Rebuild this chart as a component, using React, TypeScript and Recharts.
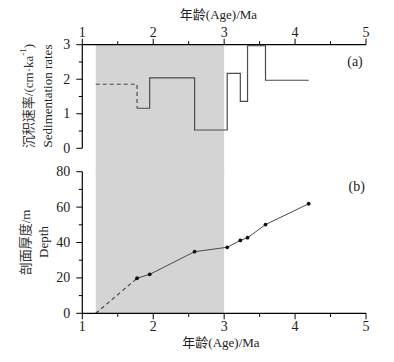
import React from 'react';
import { LineChart, Line, XAxis, YAxis, ReferenceArea } from 'recharts';

const ages = [1.19, 1.772, 1.95, 2.583, 3.043, 3.228, 3.33, 3.583, 4.192];
const rates = [1.855, 1.16, 2.04, 0.53, 2.17, 1.36, 2.97, 1.97, 1.97];
const depths = [0, 19.8, 22.0, 34.8, 37.3, 41.2, 42.7, 50.1, 61.9];
const xTicks = [1, 1.5, 2, 2.5, 3, 3.5, 4, 4.5, 5];
const rateTicks = [0, 0.5, 1, 1.5, 2, 2.5, 3];
const depthTicks = [0, 10, 20, 30, 40, 50, 60, 70, 80];
const shadeStart = 1.19;
const shadeEnd = 3;

const rateData = ages.map((a, i) => ({ age: a, rate: rates[i] }));
const rateDashed = rateData.slice(0, 2);
const rateSolid = rateData.slice(1);
const depthData = ages.map((a, i) => ({ age: a, depth: depths[i] }));
const depthDashed = depthData.slice(0, 2);
const depthSolid = depthData.slice(1);

const FONT = "'Liberation Serif', 'Noto Sans CJK SC', serif";
const LINE = '#4a4a4a';
const AX_H = 20;
const AX_W = 30;

const XTickTop = (props: any) => {
  const { x, y, payload } = props;
  const v = payload.value;
  const major = Number.isInteger(v);
  return (
    <g>
      <line x1={x} x2={x} y1={y} y2={y - (major ? 6 : 3.5)} stroke="#000" strokeWidth={1} />
      {major && (
        <text x={x} y={y - 7.5} textAnchor="middle" fontSize={14} fontFamily={FONT} fill="#222">
          {v}
        </text>
      )}
    </g>
  );
};

const XTickBottom = (props: any) => {
  const { x, y, payload } = props;
  const v = payload.value;
  const major = Number.isInteger(v);
  return (
    <g>
      <line x1={x} x2={x} y1={y} y2={y + (major ? 6 : 3.5)} stroke="#000" strokeWidth={1} />
      {major && (
        <text x={x} y={y + 17.5} textAnchor="middle" fontSize={14} fontFamily={FONT} fill="#222">
          {v}
        </text>
      )}
    </g>
  );
};

const makeYTick = (majorStep: number) => (props: any) => {
  const { x, y, payload } = props;
  const v = payload.value;
  const major = Math.abs(v / majorStep - Math.round(v / majorStep)) < 1e-6;
  return (
    <g>
      <line x1={x} x2={x - (major ? 6 : 3.5)} y1={y} y2={y} stroke="#000" strokeWidth={1} />
      {major && (
        <text x={x - 12} y={y} textAnchor="end" dominantBaseline="central" fontSize={14} fontFamily={FONT} fill="#222">
          {v}
        </text>
      )}
    </g>
  );
};

const YTickRate = makeYTick(1);
const YTickDepth = makeYTick(20);

const Dot = (props: any) => {
  const { cx, cy } = props;
  return <circle cx={cx} cy={cy} r={1.9} fill="#111" />;
};

export default function App() {
  const topH = 176;
  const botTop = 150;
  const botH = 212;
  return (
    <div style={{ position: 'absolute', left: 0, top: 0, width: 394, height: 362, background: '#fff', fontFamily: FONT }}>
      <div style={{ position: 'absolute', left: 0, top: 0 }}>
        <LineChart
          width={394}
          height={topH}
          margin={{ top: 44.7 - AX_H, left: 82.3 - AX_W, right: 28, bottom: topH - 148.3 }}
        >
          <XAxis
            dataKey="age"
            type="number"
            orientation="top"
            domain={[1, 5]}
            ticks={xTicks}
            interval={0}
            height={AX_H}
            tickSize={0}
            tickMargin={0}
            tick={<XTickTop />}
            stroke="#000"
            strokeWidth={1.2}
            allowDataOverflow
          />
          <YAxis
            type="number"
            domain={[0, 3]}
            ticks={rateTicks}
            interval={0}
            width={AX_W}
            tickSize={0}
            tickMargin={0}
            tick={<YTickRate />}
            stroke="#000"
            strokeWidth={1.2}
            allowDataOverflow
          />
          <ReferenceArea
            x1={shadeStart}
            x2={shadeEnd}
            y1={-0.76}
            y2={3}
            ifOverflow="visible"
            fill="#d4d4d4"
            fillOpacity={1}
            stroke="none"
          />
          <Line
            data={rateDashed}
            dataKey="rate"
            type="stepAfter"
            stroke={LINE}
            strokeWidth={1.2}
            strokeDasharray="4 3"
            dot={false}
            isAnimationActive={false}
          />
          <Line
            data={rateSolid}
            dataKey="rate"
            type="stepAfter"
            stroke={LINE}
            strokeWidth={1.2}
            dot={false}
            isAnimationActive={false}
          />
          <text x={218.5} y={19} textAnchor="middle" fontSize={13} fontFamily={FONT} fill="#222">
            年龄(Age)/Ma
          </text>
          <text x={355} y={61} textAnchor="middle" dominantBaseline="central" fontSize={14} fontFamily={FONT} fill="#222">
            (a)
          </text>
          <text
            x={28}
            y={96}
            transform="rotate(-90 28 96)"
            textAnchor="middle"
            dominantBaseline="central"
            fontSize={13}
            fontFamily={FONT}
            fill="#333"
          >
            沉积速率/(cm·ka<tspan dy={-5} fontSize={9}>-1</tspan><tspan dy={5}>)</tspan>
          </text>
          <text
            x={47}
            y={96}
            transform="rotate(-90 47 96)"
            textAnchor="middle"
            dominantBaseline="central"
            fontSize={13}
            fontFamily={FONT}
            fill="#222"
          >
            Sedimentation rates
          </text>
        </LineChart>
      </div>
      <div style={{ position: 'absolute', left: 0, top: botTop }}>
        <LineChart
          width={394}
          height={botH}
          margin={{ top: 171.7 - botTop, left: 82.3 - AX_W, right: 28, bottom: botH - (313.3 - botTop) - AX_H }}
        >
          <XAxis
            dataKey="age"
            type="number"
            orientation="bottom"
            domain={[1, 5]}
            ticks={xTicks}
            interval={0}
            height={AX_H}
            tickSize={0}
            tickMargin={0}
            tick={<XTickBottom />}
            stroke="#000"
            strokeWidth={1.2}
            allowDataOverflow
          />
          <YAxis
            type="number"
            domain={[0, 80]}
            ticks={depthTicks}
            interval={0}
            width={AX_W}
            tickSize={0}
            tickMargin={0}
            tick={<YTickDepth />}
            stroke="#000"
            strokeWidth={1.2}
            allowDataOverflow
          />
          <ReferenceArea
            x1={shadeStart}
            x2={shadeEnd}
            y1={0}
            y2={80}
            ifOverflow="visible"
            fill="#d4d4d4"
            fillOpacity={1}
            stroke="none"
          />
          <Line
            data={depthDashed}
            dataKey="depth"
            type="linear"
            stroke={LINE}
            strokeWidth={1.2}
            strokeDasharray="4 3"
            dot={false}
            isAnimationActive={false}
          />
          <Line
            data={depthSolid}
            dataKey="depth"
            type="linear"
            stroke={LINE}
            strokeWidth={1}
            dot={<Dot />}
            isAnimationActive={false}
          />
          <text x={221} y={347 - botTop} textAnchor="middle" fontSize={13} fontFamily={FONT} fill="#222">
            年龄(Age)/Ma
          </text>
          <text x={356.7} y={186.7 - botTop} textAnchor="middle" dominantBaseline="central" fontSize={14} fontFamily={FONT} fill="#222">
            (b)
          </text>
          <text
            x={25}
            y={242.5 - botTop}
            transform={`rotate(-90 25 ${242.5 - botTop})`}
            textAnchor="middle"
            dominantBaseline="central"
            fontSize={13}
            fontFamily={FONT}
            fill="#333"
          >
            剖面厚度/m
          </text>
          <text
            x={43}
            y={242 - botTop}
            transform={`rotate(-90 43 ${242 - botTop})`}
            textAnchor="middle"
            dominantBaseline="central"
            fontSize={13}
            fontFamily={FONT}
            fill="#222"
          >
            Depth
          </text>
        </LineChart>
      </div>
    </div>
  );
}
